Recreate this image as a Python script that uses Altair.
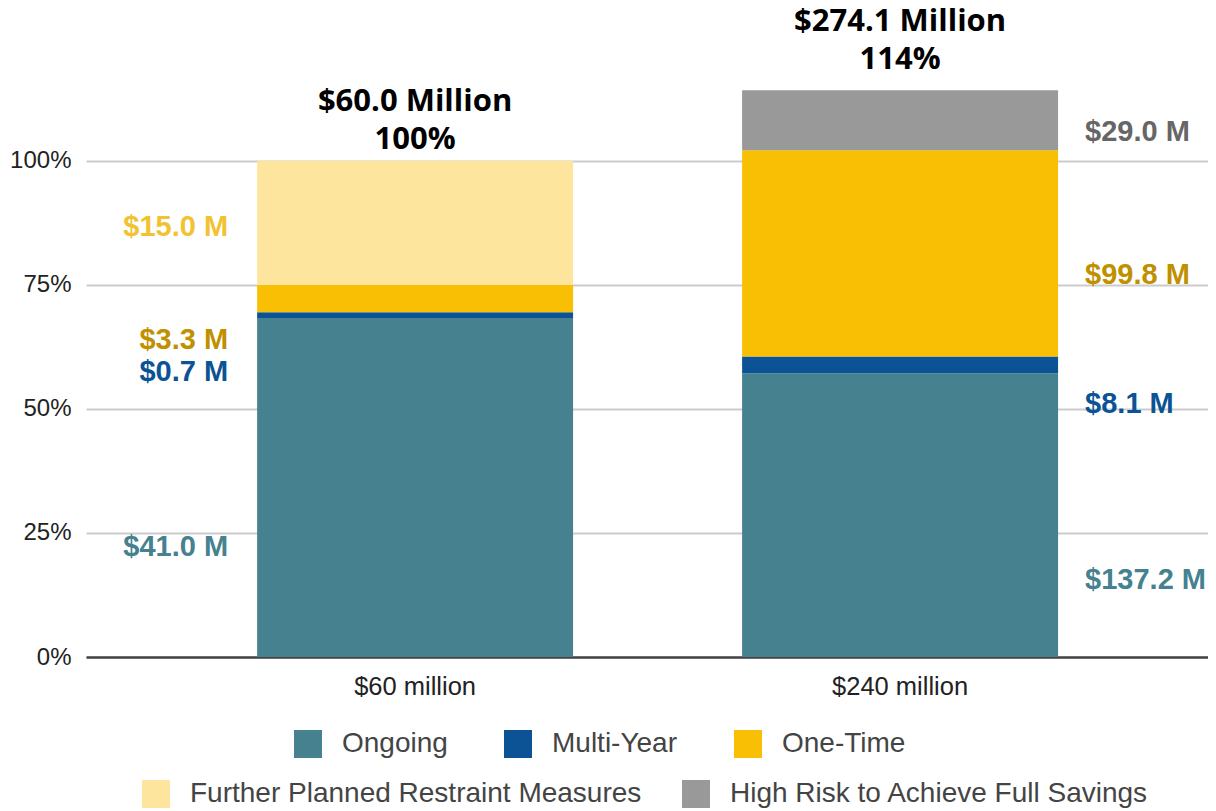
import altair as alt
import pandas as pd

# ---- data ----
categories = ["$60 million", "$240 million"]
series = ["Ongoing", "Multi-Year", "One-Time",
          "Further Planned Restraint Measures", "High Risk to Achieve Full Savings"]
budget_millions = [60, 240]
values_60 = [41.0, 0.7, 3.3, 15.0, 0.0]
values_240 = [137.2, 8.1, 99.8, 0.0, 29.0]
label_text_60 = ["$41.0 M", "$0.7 M", "$3.3 M", "$15.0 M", ""]
label_text_240 = ["$137.2 M", "$8.1 M", "$99.8 M", "", "$29.0 M"]
# where each amount label sits, as a share of the budget
label_at_60 = [0.222, 0.575, 0.639, 0.867, None]
label_at_240 = [0.155, 0.510, 0.770, None, 1.058]
total_text = ["$60.0 Million", "$274.1 Million"]

# ---- styles ----
bar_colors = ["#45818e", "#0b5394", "#f9bf05", "#fde59d", "#999999"]
label_colors = {"Ongoing": "#45818e", "Multi-Year": "#0b5394", "One-Time": "#bf9000",
                "Further Planned Restraint Measures": "#f1c232",
                "High Risk to Achieve Full Savings": "#666666"}

rows = []
for cat, bud, vals, texts, ats in [
    (categories[0], budget_millions[0], values_60, label_text_60, label_at_60),
    (categories[1], budget_millions[1], values_240, label_text_240, label_at_240),
]:
    acc = 0.0
    for s, v, t, a in zip(series, vals, texts, ats):
        if v <= 0:
            continue
        y0 = acc / bud
        acc += v
        rows.append(dict(category=cat, series=s, value=v, y0=y0, y1=acc / bud,
                         label=t, label_at=a, label_color=label_colors[s]))
df = pd.DataFrame(rows)

tot = df.groupby("category", sort=False)["value"].sum().reindex(categories)
totals = pd.DataFrame({
    "category": categories,
    "share": [tot[c] / b for c, b in zip(categories, budget_millions)],
    "total_label": total_text,
})
totals["pct_label"] = [f"{round(s * 100):.0f}%" for s in totals["share"]]

W, H = 1122, 645
x_enc = alt.X("category:N", sort=categories,
              scale=alt.Scale(paddingInner=0.3485, paddingOuter=0.331, align=0.533),
              axis=alt.Axis(title=None, labelAngle=0, labelFontSize=25.5, labelColor="#222222",
                            labelFont="Liberation Sans", labelPadding=17, ticks=False,
                            domainColor="#444444", domainWidth=2.5, grid=False))
y_scale = alt.Scale(domain=[0, 1.3], nice=False, zero=True)
y_axis = alt.Axis(title=None, values=[0, 0.25, 0.5, 0.75, 1.0], format=".0%",
                  labelFontSize=24, labelColor="#222222", labelFont="Liberation Sans",
                  labelPadding=15, ticks=False, tickSize=0, domain=False,
                  gridColor="#cccccc", gridWidth=2)

base = alt.Chart(df)
first3 = series[:3]
last2 = series[3:]

legend_common = dict(title=None, orient="none", direction="horizontal", symbolType="square",
                     symbolSize=784, symbolStrokeWidth=0, labelFontSize=28,
                     labelFont="Liberation Sans", labelColor="#444444", labelOffset=20,
                     padding=0, labelLimit=700)

bars_a = base.transform_filter(alt.FieldOneOfPredicate(field="series", oneOf=first3)).mark_bar(
    stroke=None).encode(
    x=x_enc,
    y=alt.Y("y0:Q", scale=y_scale, axis=y_axis),
    y2="y1:Q",
    color=alt.Color("series:N", scale=alt.Scale(domain=first3, range=bar_colors[:3]),
                    legend=alt.Legend(legendX=208, legendY=718, columnPadding=56,
                                      **legend_common)),
)
bars_b = base.transform_filter(alt.FieldOneOfPredicate(field="series", oneOf=last2)).mark_bar(
    stroke=None).encode(
    x=x_enc,
    y=alt.Y("y0:Q", scale=y_scale, axis=y_axis),
    y2="y1:Q",
    fill=alt.Fill("series:N", scale=alt.Scale(domain=last2, range=bar_colors[3:]),
                  legend=alt.Legend(legendX=56, legendY=768, columnPadding=40,
                                    **legend_common)),
)

lbl_style = dict(font="Liberation Sans", fontSize=29, fontWeight="bold", baseline="middle")
labels_left = base.transform_filter(alt.datum.category == categories[0]).mark_text(
    align="right", dx=-187, **lbl_style).encode(
    x=x_enc, y=alt.Y("label_at:Q", scale=y_scale, axis=y_axis),
    text="label:N", color=alt.Color("label_color:N", scale=None))
labels_right = base.transform_filter(alt.datum.category == categories[1]).mark_text(
    align="left", dx=185, **lbl_style).encode(
    x=x_enc, y=alt.Y("label_at:Q", scale=y_scale, axis=y_axis),
    text="label:N", color=alt.Color("label_color:N", scale=None))

ann_style = dict(font="Open Sans", fontSize=31, fontWeight="bold", color="#000000",
                 align="center", baseline="alphabetic")
ann_layers = []
for cat, d_total, d_pct in [(categories[0], -50, -12), (categories[1], -59, -21)]:
    tb = alt.Chart(totals).transform_filter(alt.datum.category == cat)
    ann_layers.append(tb.mark_text(dy=d_total, **ann_style).encode(
        x=x_enc, y=alt.Y("share:Q", scale=y_scale, axis=y_axis), text="total_label:N"))
    ann_layers.append(tb.mark_text(dy=d_pct, **ann_style).encode(
        x=x_enc, y=alt.Y("share:Q", scale=y_scale, axis=y_axis), text="pct_label:N"))

chart = alt.layer(bars_a, bars_b, labels_left, labels_right, *ann_layers).properties(
    width=W, height=H,
    autosize=alt.AutoSizeParams(type="none"),
    padding={"left": 78, "top": 4, "right": 0, "bottom": 152},
).configure(background="#ffffff").configure_view(stroke=None)

chart.save("out.html", embed_options={"renderer": "svg", "actions": False})
